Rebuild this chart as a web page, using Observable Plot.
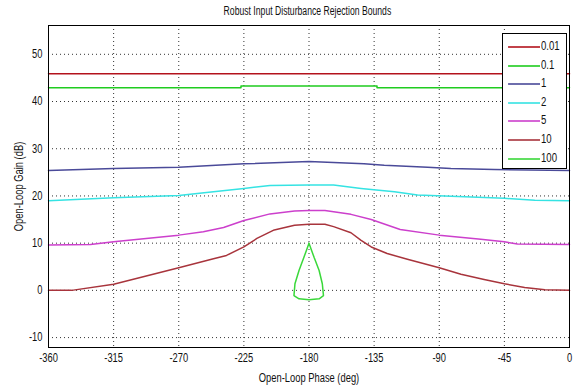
<!DOCTYPE html>
<html>
<head>
<meta charset="utf-8">
<script src="https://cdn.jsdelivr.net/npm/d3@7"></script>
<script src="https://cdn.jsdelivr.net/npm/@observablehq/plot@0.6"></script>
<style>
  body { margin: 0; background: #fff; }
  #wrap { position: relative; width: 573px; height: 385px; font-family: "Liberation Sans", Arial, sans-serif; }
  #title { height: 20px; line-height: 22px; text-align: center; font-size: 12px; padding-left: 42px; color: #111; }
  #title span { display: inline-block; transform: scaleX(0.72); transform-origin: center; }
  #legend { position: absolute; left: 502px; top: 33px; width: 65px; height: 136px; border: 1px solid #000; background: #fff; box-sizing: border-box; }
  #legend .row { position: absolute; left: 0; height: 14px; font-size: 12px; color: #111; }
  #legend .row svg { position: absolute; left: 5px; top: 0; }
  #legend .row span { position: absolute; left: 38px; top: -1px; display: inline-block; transform: scaleX(0.8); transform-origin: left; }
</style>
</head>
<body>
<div id="wrap">
  <div id="title"><span>Robust Input Disturbance Rejection Bounds</span></div>
  <div id="chart"></div>
  <div id="legend"></div>
</div>
<script>
// Series labels and colours
const seriesNames = ["0.01", "0.1", "1", "2", "5", "10", "100"];
const seriesColors = ["#b3121c", "#1fcc1f", "#4a4a99", "#35e3e3", "#cc3fcc", "#a8343c", "#3ad83a"];

// Phase (deg) / gain (dB) per series
const phase001 = [-360, 0];
const gain001 = [45.9, 45.9];

const phase01 = [-360, -227, -227, -133, -133, 0];
const gain01 = [42.9, 42.9, 43.3, 43.3, 42.9, 42.9];

const phase1 = [-360, -315, -270, -225, -180, -142, -128, -98, -82, -52, 0];
const gain1 = [25.4, 25.8, 26.1, 26.8, 27.3, 26.8, 26.5, 26.1, 25.8, 25.6, 25.4];

const phase2 = [-360, -315, -270, -246, -225, -207, -180, -163, -144, -121, -105, -77, -45, -24, 0];
const gain2 = [19.0, 19.6, 20.1, 20.9, 21.6, 22.2, 22.3, 22.3, 21.6, 20.9, 20.2, 19.9, 19.5, 19.1, 19.0];

const phase5 = [-360, -331, -315, -270, -253, -239, -225, -207, -190, -180, -169, -151, -137, -117, -90, -63, -45, -36, 0];
const gain5 = [9.6, 9.7, 10.3, 11.7, 12.4, 13.3, 14.8, 16.2, 16.8, 16.9, 16.9, 16.1, 15.0, 12.9, 11.7, 10.9, 10.3, 9.8, 9.7];

const phase10 = [-360, -344, -315, -270, -246, -237, -225, -216, -204, -190, -180, -169, -163, -151, -144, -137, -126, -112, -90, -75, -59, -45, -31, -17, 0];
const gain10 = [0, 0, 1.3, 4.8, 6.7, 7.4, 9.2, 11.0, 12.8, 13.8, 14.0, 14.0, 13.5, 12.2, 10.6, 9.2, 7.8, 6.6, 4.8, 3.4, 2.3, 1.4, 0.6, 0.14, 0];

const phase100 = [-180, -183.5, -186.9, -189.7, -190.4, -186.9, -180, -173, -170, -170.8, -173, -176.5, -180];
const gain100 = [10, 7.0, 4.2, 1.4, -1.1, -1.8, -2.0, -1.8, -1.1, 1.4, 4.2, 7.0, 10];

// Axis ticks
const xTicks = [-360, -315, -270, -225, -180, -135, -90, -45, 0];
const yTicks = [-10, 0, 10, 20, 30, 40, 50];

const phases = [phase001, phase01, phase1, phase2, phase5, phase10, phase100];
const gains = [gain001, gain01, gain1, gain2, gain5, gain10, gain100];

const rows = [];
seriesNames.forEach((name, i) => {
  phases[i].forEach((p, j) => rows.push({series: name, phase: p, gain: gains[i][j]}));
});

const chart = Plot.plot({
  width: 573,
  height: 365,
  marginTop: 5,
  marginBottom: 38,
  marginLeft: 48,
  marginRight: 4,
  style: {fontFamily: '"Liberation Sans", Arial, sans-serif', fontSize: "12px", color: "#111", background: "#fff"},
  x: {domain: [-360, 0], ticks: xTicks, tickSize: 0, tickPadding: 6, label: "Open-Loop Phase (deg)", labelArrow: "none", labelAnchor: "center", labelOffset: 34, tickFormat: d => String(d)},
  y: {domain: [-12.1, 56.1], ticks: yTicks, tickSize: 0, tickPadding: 6, label: "Open-Loop Gain (dB)", labelArrow: "none", labelAnchor: "center", labelOffset: 34, tickFormat: d => String(d)},
  color: {domain: seriesNames, range: seriesColors},
  marks: [
    Plot.ruleX(xTicks, {stroke: "#333", strokeDasharray: "1,3", strokeWidth: 1}),
    Plot.ruleY(yTicks, {stroke: "#333", strokeDasharray: "1,3", strokeWidth: 1}),
    Plot.line(rows, {x: "phase", y: "gain", z: "series", stroke: "series", strokeWidth: 1.5, curve: "linear"}),
    Plot.frame({stroke: "#000", strokeWidth: 1})
  ]
});
document.getElementById("chart").appendChild(chart);

// Condense axis text (narrow MATLAB-style font)
d3.select(chart).selectAll("text").each(function () {
  const t = this.textContent.replace(/\s*[→↑]\s*$/, "");
  if (t !== this.textContent) this.textContent = t;
  const len = this.getComputedTextLength();
  if (len > 0) {
    this.setAttribute("textLength", (len * 0.78).toFixed(1));
    this.setAttribute("lengthAdjust", "spacingAndGlyphs");
  }
});

// Legend
const legend = document.getElementById("legend");
seriesNames.forEach((name, i) => {
  const row = document.createElement("div");
  row.className = "row";
  row.style.top = (6 + i * 18.6) + "px";
  row.style.width = "63px";
  row.innerHTML = `<svg width="32" height="14"><line x1="0" x2="32" y1="7" y2="7" stroke="${seriesColors[i]}" stroke-width="1.6"/></svg><span>${name}</span>`;
  legend.appendChild(row);
});
</script>
</body>
</html>
